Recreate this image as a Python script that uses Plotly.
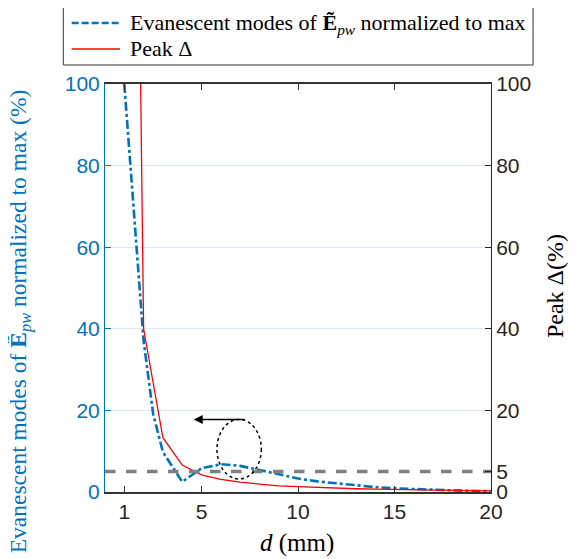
import plotly.graph_objects as go

# data
d_evan = [1, 1.5, 2, 2.5, 3, 4, 5, 6, 7, 8, 9, 10, 11, 12, 13, 14, 15, 16, 17, 18, 19, 20]
evan = [100, 68, 37, 19, 9.8, 2.5, 5.8, 6.8, 6.4, 5.4, 4.3, 3.3, 2.6, 2.1, 1.6, 1.2, 0.9, 0.7, 0.5, 0.4, 0.3, 0.2]
d_peak = [1, 2, 3, 4, 5, 6, 7, 8, 9, 10, 11, 12, 13, 14, 15, 16, 17, 18, 19, 20]
peak = [430, 40, 13.3, 6.6, 4.2, 3.1, 2.4, 1.9, 1.5, 1.3, 1.1, 0.9, 0.8, 0.7, 0.6, 0.5, 0.45, 0.4, 0.35, 0.3]
threshold = 5
xticks = [1, 5, 10, 15, 20]
yticks_left = [0, 20, 40, 60, 80, 100]
yticks_right = [0, 5, 20, 40, 60, 80, 100]
legend_labels = ["Evanescent modes of <b>Ẽ</b><sub><i>pw</i></sub> normalized to max", "Peak Δ"]

BLUE = "#0072BD"
RED = "#FF0000"
SERIF = "Liberation Serif"
SANS = "Liberation Sans"

fig = go.Figure()
fig.add_trace(go.Scatter(
    x=d_evan, y=evan, mode="lines", yaxis="y", name=legend_labels[0], showlegend=False,
    line=dict(color=BLUE, width=2.6, dash="dashdot"),
))
fig.add_trace(go.Scatter(
    x=d_peak, y=peak, mode="lines", yaxis="y2", name=legend_labels[1], showlegend=False,
    line=dict(color=RED, width=1.3),
))
fig.add_trace(go.Scatter(
    x=[0, 20], y=[threshold, threshold], mode="lines", yaxis="y2",
    showlegend=False, line=dict(color="#808080", width=3.5, dash="dash"),
))

# annotation ellipse + arrow
fig.add_shape(type="circle", xref="x", yref="y", x0=5.8, x1=8.1, y0=3.2, y1=17.8,
              line=dict(color="black", width=1.5, dash="dot"))
fig.add_annotation(x=4.6, y=17.8, ax=7.3, ay=17.8, xref="x", yref="y", axref="x", ayref="y",
                   text="", showarrow=True, arrowhead=2, arrowsize=1.2, arrowwidth=1.5,
                   arrowcolor="black")

# manual legend
fig.add_shape(type="rect", xref="paper", yref="paper", x0=-0.108, x1=1.109, y0=1.0466, y1=1.1936,
              line=dict(color="#333333", width=1), fillcolor="white")
fig.add_shape(type="line", xref="paper", yref="paper", x0=-0.0863, x1=0.0389, y0=1.1495, y1=1.1495,
              line=dict(color=BLUE, width=2.6, dash="7px,3px"))
fig.add_shape(type="line", xref="paper", yref="paper", x0=-0.0863, x1=0.0389, y0=1.0858, y1=1.0858,
              line=dict(color=RED, width=1.3))
fig.add_annotation(text=legend_labels[0], xref="paper", yref="paper", x=0.0588, y=1.1471,
                   xanchor="left", yanchor="middle", showarrow=False,
                   font=dict(family=SERIF, size=22, color="black"))
fig.add_annotation(text=legend_labels[1], xref="paper", yref="paper", x=0.0588, y=1.0880,
                   xanchor="left", yanchor="middle", showarrow=False,
                   font=dict(family=SERIF, size=22, color="black"))

# axis titles
fig.add_annotation(text="Evanescent modes of <b>Ẽ</b><sub><i>pw</i></sub> normalized to max (%)",
                   xref="paper", yref="paper", x=-0.218, y=0.418, textangle=-90,
                   xanchor="center", yanchor="middle",
                   showarrow=False, font=dict(family=SERIF, size=23.5, color=BLUE))
fig.add_annotation(text="Peak Δ(%)", xref="paper", yref="paper", x=1.166, y=0.505,
                   textangle=-90, showarrow=False, xanchor="center", yanchor="middle",
                   font=dict(family=SERIF, size=24, color="black"))
fig.add_annotation(text="<i>d</i> (mm)", xref="paper", yref="paper", x=0.497, y=-0.125,
                   yanchor="middle", showarrow=False,
                   font=dict(family=SERIF, size=25, color="black"))

fig.update_layout(
    width=581, height=559,
    margin=dict(l=97, r=98, t=76, b=75, autoexpand=False),
    plot_bgcolor="white", paper_bgcolor="white",
    showlegend=False,
    xaxis=dict(range=[0, 20], tickvals=xticks, ticks="inside", ticklen=6,
               tickcolor="#333333", showline=True, linecolor="#333333", linewidth=1.5,
               mirror="ticks", showgrid=False, zeroline=False,
               tickfont=dict(family=SANS, size=21, color="#262626")),
    yaxis=dict(range=[0, 100], tickvals=yticks_left, ticks="inside", ticklen=6,
               tickcolor=BLUE, showline=True, linecolor=BLUE, linewidth=1,
               showgrid=True, gridcolor="#dbe8f1", gridwidth=1, zeroline=False,
               tickfont=dict(family=SANS, size=21, color=BLUE)),
    yaxis2=dict(range=[0, 100], tickvals=yticks_right, ticks="inside", ticklen=6,
                tickcolor="#262626", showline=True, linecolor="#262626", linewidth=1,
                overlaying="y", side="right", showgrid=False, zeroline=False,
                tickfont=dict(family=SANS, size=21, color="#262626")),
)

fig.write_html("out.html")
